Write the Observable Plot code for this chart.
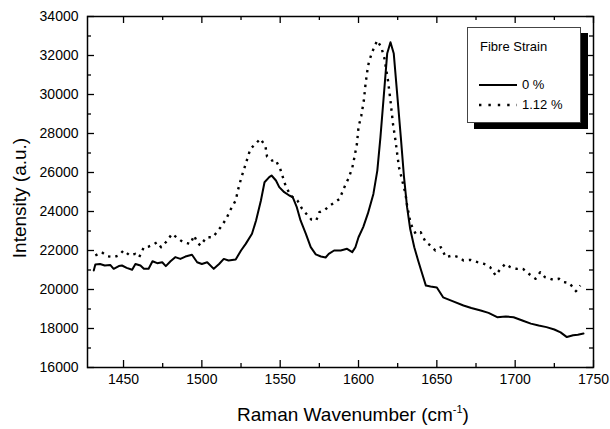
<!DOCTYPE html>
<html>
<head>
<meta charset="utf-8">
<script src="https://cdn.jsdelivr.net/npm/d3@7"></script>
<script src="https://cdn.jsdelivr.net/npm/@observablehq/plot@0.6"></script>
<style>
  html, body { margin: 0; padding: 0; background: #fff; }
  body { font-family: "Liberation Sans", Arial, sans-serif; }
  #wrap { position: relative; width: 610px; height: 429px; overflow: hidden; }
  #ytitle { position: absolute; left: 20px; top: 198px; transform: translate(-50%, -50%) rotate(-90deg); font-size: 19px; white-space: nowrap; color: #000; }
  #xtitle { position: absolute; left: 353px; top: 404px; transform: translateX(-50%); font-size: 19px; white-space: nowrap; color: #000; }
  #xtitle sup { font-size: 11px; vertical-align: 8px; line-height: 0; }
  #legend { position: absolute; left: 467px; top: 27px; width: 112px; height: 94px; background: #fff; border: 1px solid #444; box-shadow: 7px 6px 0 #000; font-size: 13px; color: #000; }
  #legend .t { position: absolute; left: 12px; top: 11px; }
  #legend .row { position: absolute; left: 11px; height: 16px; width: 100px; }
  #legend .row svg { position: absolute; left: 0; top: 0; }
  #legend .row span { position: absolute; left: 43px; top: 0; }
</style>
</head>
<body>
<div id="wrap">
  <div id="chart"></div>
  <div id="ytitle">Intensity (a.u.)</div>
  <div id="xtitle">Raman Wavenumber (cm<sup>-1</sup>)</div>
  <div id="legend">
    <div class="t">Fibre Strain</div>
    <div class="row" style="top:49px"><svg width="40" height="16"><line x1="0" x2="38" y1="8" y2="8" stroke="#000" stroke-width="2"/></svg><span>0 %</span></div>
    <div class="row" style="top:69px"><svg width="40" height="16"><line x1="0" x2="38" y1="8" y2="8" stroke="#000" stroke-width="2.4" stroke-dasharray="2.4,7"/></svg><span>1.12 %</span></div>
  </div>
</div>
<script>
// Series labels
const seriesNames = ["0 %", "1.12 %"];

// 0 % strain (solid)
const wn0 = [1431,1432,1435,1438,1441.5,1443.7,1447,1449,1452,1455.5,1457.6,1460.8,1463,1466,1468.5,1471.5,1474.7,1477,1480,1483,1486.3,1489.5,1493.7,1497,1500,1503.4,1507.6,1511,1514,1517,1521.6,1525,1528,1532,1534.6,1537.7,1540,1543,1544.5,1547.3,1549.4,1552.6,1555.8,1558,1560.6,1563,1566.4,1569.5,1572.7,1576,1579,1581,1584.4,1588.6,1592.7,1596,1598,1600,1603,1606,1609.5,1612,1614,1616,1618.3,1620.4,1622.5,1624.5,1627,1629,1631,1633,1635.6,1638,1640,1643,1646,1650,1654,1660,1667,1672,1678,1683,1688.5,1694,1699,1705,1710,1715,1720,1725,1729,1733,1737,1740,1743.6];
const int0 = [20975,21280,21310,21230,21260,21060,21200,21230,21110,21010,21310,21230,21060,21060,21450,21350,21400,21200,21450,21660,21570,21690,21780,21400,21310,21400,21060,21310,21570,21490,21540,22000,22340,22855,23540,24565,25500,25760,25846,25590,25250,24990,24820,24735,24220,23540,22855,22170,21800,21690,21640,21830,22000,22000,22085,21915,22170,22680,23200,23900,24900,26100,27810,29800,32100,32680,32100,30200,27810,25800,24220,23100,22170,21500,20975,20200,20150,20100,19600,19400,19180,19050,18920,18800,18580,18620,18580,18400,18250,18150,18070,17950,17800,17560,17650,17680,17740];

// 1.12 % strain (dotted)
const wn112 = [1432,1436,1440,1444,1447,1450,1454,1457.6,1460,1463,1466,1469,1471.5,1474,1477,1481,1485,1488,1492.7,1495,1497,1499,1503,1507,1512,1515.6,1518,1521.6,1523,1525,1527,1529,1531,1533.7,1537.4,1540.6,1541.6,1544.8,1547,1550,1553.4,1556.6,1561,1564,1567.6,1570,1573,1575,1578.6,1581.7,1585,1588,1590.5,1593.7,1596,1597.4,1599,1600,1601.8,1603.4,1604.5,1605.5,1606.6,1608.7,1611.9,1614.5,1616.6,1618.8,1620.4,1622,1623.6,1624.7,1625.8,1627.9,1630,1631,1633.3,1636.5,1639.7,1642.9,1646,1649,1652.6,1655.7,1660,1664,1667,1671.5,1676,1680,1684,1687.5,1690.6,1693.8,1697,1701,1705,1710,1713,1716,1719,1724,1728,1731,1734.6,1738.8,1741.6];
const int112 = [21745,21915,21700,21660,21750,22000,21745,21830,21660,22170,22200,22300,22425,22170,22425,22855,22600,22425,22340,22770,22425,22255,22680,22680,23195,23625,24050,24565,25080,25680,26190,26700,27215,27420,27730,27340,26820,26610,26650,26190,25330,24820,24565,24135,23795,23580,23540,23965,24090,24310,24480,24650,25165,25720,26230,26785,27470,28325,28925,29690,30545,31145,31655,32170,32770,32430,31830,30720,29690,28495,27640,26960,26275,25590,24910,24310,23370,22855,22940,22425,22255,22000,22170,21660,21745,21660,21490,21520,21400,21320,21145,20720,21060,21320,21145,21060,21060,20720,20550,20890,20635,20500,20550,20380,20330,19915,20210];

// Axis ticks
const xMajor = [1450,1500,1550,1600,1650,1700,1750];
const xMinor = [1475,1525,1575,1625,1675,1725];
const yMajor = [16000,18000,20000,22000,24000,26000,28000,30000,32000,34000];
const yMinor = [17000,19000,21000,23000,25000,27000,29000,31000,33000];

const s0 = wn0.map((x, i) => ({x, y: int0[i], s: seriesNames[0]}));
const s1 = wn112.map((x, i) => ({x, y: int112[i], s: seriesNames[1]}));

const W = 610, H = 429;
const mL = 87, mR = 17, mT = 16, mB = 62;
const fw = W - mL - mR, fh = H - mT - mB;

const chart = Plot.plot({
  width: W,
  height: H,
  marginLeft: mL, marginRight: mR, marginTop: mT, marginBottom: mB,
  style: {fontFamily: "'Liberation Sans', Arial, sans-serif", fontSize: "14px", color: "#000", background: "#fff"},
  x: {domain: [1427, 1750]},
  y: {domain: [16000, 34000]},
  marks: [
    Plot.axisX({ticks: xMajor, tickSize: 0, tickPadding: 7, fontSize: 14, label: null, tickFormat: d => String(d)}),
    Plot.axisY({ticks: yMajor, tickSize: 0, tickPadding: 9, fontSize: 14, label: null, tickFormat: d => String(d)}),
    // inward ticks bottom/top
    Plot.tickX(xMajor, {x: d => d, insetTop: fh - 7, stroke: "#000", strokeWidth: 1.3}),
    Plot.tickX(xMajor, {x: d => d, insetBottom: fh - 7, stroke: "#000", strokeWidth: 1.3}),
    Plot.tickX(xMinor, {x: d => d, insetTop: fh - 4, stroke: "#000", strokeWidth: 1.3}),
    Plot.tickX(xMinor, {x: d => d, insetBottom: fh - 4, stroke: "#000", strokeWidth: 1.3}),
    // inward ticks left/right
    Plot.tickY(yMajor, {y: d => d, insetRight: fw - 7, stroke: "#000", strokeWidth: 1.3}),
    Plot.tickY(yMajor, {y: d => d, insetLeft: fw - 7, stroke: "#000", strokeWidth: 1.3}),
    Plot.tickY(yMinor, {y: d => d, insetRight: fw - 4, stroke: "#000", strokeWidth: 1.3}),
    Plot.tickY(yMinor, {y: d => d, insetLeft: fw - 4, stroke: "#000", strokeWidth: 1.3}),
    Plot.line(s1, {x: "x", y: "y", stroke: "#000", strokeWidth: 2.4, strokeDasharray: "2.4,5", strokeLinecap: "butt", curve: "linear"}),
    Plot.line(s0, {x: "x", y: "y", stroke: "#000", strokeWidth: 2, curve: "linear"}),
    Plot.frame({stroke: "#000", strokeWidth: 1.5})
  ]
});
document.getElementById("chart").appendChild(chart);
</script>
</body>
</html>
